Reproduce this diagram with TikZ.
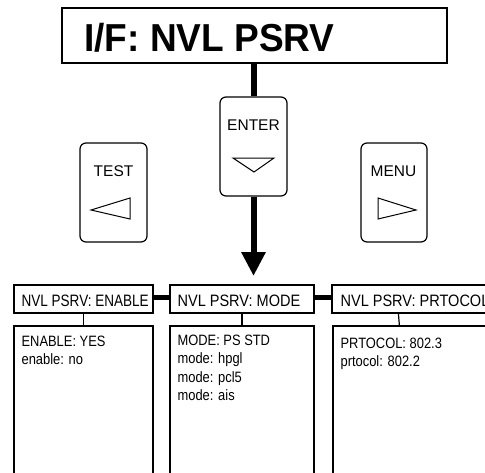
\documentclass[tikz,border=0pt]{standalone}
\usepackage{fontspec}
\setmainfont{Liberation Sans}
\newfontfamily\titlef[FakeStretch=0.95]{Liberation Sans}
\newfontfamily\narrowf[FakeStretch=0.82]{Liberation Sans}
\newfontfamily\narrowwf[FakeStretch=0.88]{Liberation Sans}
\newfontfamily\contf[FakeStretch=0.86]{Liberation Sans}
\usetikzlibrary{arrows.meta}
\begin{document}
\begin{tikzpicture}[x=1pt,y=-1pt,
  box/.style={draw, line width=1.2pt, rectangle, inner sep=0pt},
  keybox/.style={draw, line width=1.2pt, rounded corners=6pt, minimum width=67pt, minimum height=99pt, inner sep=0pt},
  keytext/.style={inner sep=0pt, font=\fontsize{15.5}{18}\selectfont},
  hdrtext/.style={inner sep=0pt, anchor=west, font=\narrowf\fontsize{16.5}{19}\selectfont},
  hdrtextw/.style={hdrtext, font=\narrowwf\fontsize{16.5}{19}\selectfont},
  conttext/.style={inner sep=0pt, anchor=north west, align=left, font=\contf\fontsize{15}{18.3}\selectfont},
  thick link/.style={line width=6pt},
  hdr link/.style={line width=5.5pt},
  thin link/.style={line width=1.2pt},
  tri/.style={line width=1pt, line join=miter}
]
\useasboundingbox (0,0) rectangle (485,472);
\clip (0,0) rectangle (485,472);
\fill[white] (0,0) rectangle (485,472);

% title
\node[box, line width=1.4pt, minimum width=385pt, minimum height=55pt] (title) at (254.5,35.5) {};
\node[inner sep=0pt, anchor=base west, font=\titlef\bfseries\fontsize{39}{46}\selectfont] (titletext) at (84,51.5) {I/F: NVL PSRV};

% keys
\node[keybox] (enter) at (253.5,146.5) {};
\node[keytext] (entertext) at (253.5,125.5) {ENTER};
\draw[tri, shift={(enter.center)}] (-20.5,11.5) -- (20.5,11.5) -- (0.5,25.5) -- cycle;

\node[keybox] (test) at (113.5,192.5) {};
\node[keytext] (testtext) at (113.5,171) {TEST};
\draw[tri, shift={(test.center)}] (-22.5,17.5) -- (16.5,5.5) -- (16.5,26.5) -- cycle;

\node[keybox, minimum width=66pt] (menu) at (394,192.5) {};
\node[keytext] (menutext) at (393.5,171) {MENU};
\draw[tri, shift={(menu.center)}] (-16,5.5) -- (-16,26.5) -- (22,17.5) -- cycle;

% headers
\node[box, minimum width=139pt, minimum height=28pt] (h1) at (83.5,299) {};
\node[box, minimum width=144pt, minimum height=28pt] (h2) at (242,299) {};
\node[box, minimum width=168pt, minimum height=28pt] (h3) at (416,299) {};
\node[hdrtext, yshift=-1.5pt] (h1text) at ([xshift=8pt]h1.west) {NVL PSRV: ENABLE};
\node[hdrtextw, yshift=-1.5pt] (h2text) at ([xshift=8pt]h2.west) {NVL PSRV: MODE};
\node[hdrtextw, yshift=-1.5pt] (h3text) at ([xshift=9pt]h3.west) {NVL PSRV: PRTOCOL};

% content boxes
\node[box, minimum width=139pt, minimum height=154pt] (b1) at (83.5,403) {};
\node[box, minimum width=144pt, minimum height=154pt] (b2) at (242,403) {};
\node[box, minimum width=167pt, minimum height=154pt] (b3) at (416.5,403) {};
\node[conttext] (b1text) at ([xshift=8pt,yshift=-10pt]b1.north west) {ENABLE: YES\\enable: no};
\node[conttext] (b2text) at ([xshift=8pt,yshift=-9.5pt]b2.north west) {MODE: PS STD\\mode: hpgl\\mode: pcl5\\mode: ais};
\node[conttext] (b3text) at ([xshift=8pt,yshift=-12pt]b3.north west) {PRTOCOL: 802.3\\prtocol: 802.2};

% connectors
\coordinate (arrowend) at (253.5,276);
\draw[thick link] (enter.north |- title.south) -- (enter.north);
\draw[thick link, -{Triangle[length=24pt,width=23pt]}] (enter.south) -- (arrowend);
\draw[hdr link] ([yshift=1.5pt]h1.east) -- ([yshift=1.5pt]h2.west);
\draw[hdr link] ([yshift=1.5pt]h2.east) -- ([yshift=1.5pt]h3.west);
\draw[thin link] (h1.south) -- (b1.north);
\draw[thin link] (h2.south) -- (b2.north);
\draw[thin link] ([xshift=67pt]h3.south west) -- ([xshift=67pt]b3.north west);
\end{tikzpicture}
\end{document}
